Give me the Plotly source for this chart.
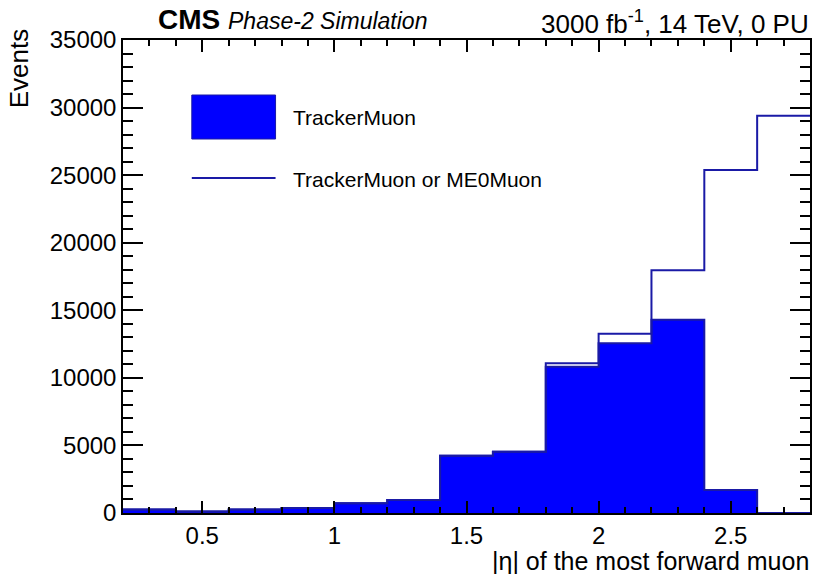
import plotly.graph_objects as go

# Bin edges in |eta| and contents
bin_edges = [0.2, 0.4, 0.6, 0.8, 1.0, 1.2, 1.4, 1.6, 1.8, 2.0, 2.2, 2.4, 2.6, 2.8]
tracker_muon = [250, 120, 250, 370, 720, 960, 4240, 4540, 10820, 12570, 14300, 1700, 0]
tracker_or_me0 = [250, 120, 250, 370, 720, 960, 4240, 4540, 11090, 13260, 17970, 25380, 29400]

FILL = "#0000ff"
EDGE = "#1a1aa6"

def step_y(vals):
    return list(vals) + [vals[-1]]

fig = go.Figure()
fig.add_trace(go.Scatter(
    x=bin_edges, y=step_y(tracker_muon), mode="lines", line_shape="hv",
    line=dict(color=EDGE, width=2), fill="tozeroy", fillcolor=FILL,
    name="TrackerMuon", showlegend=False))
fig.add_trace(go.Scatter(
    x=bin_edges, y=step_y(tracker_or_me0), mode="lines", line_shape="hv",
    line=dict(color=EDGE, width=2),
    name="TrackerMuon or ME0Muon", showlegend=False))

L, R, T, B = 123, 812, 40, 513
W, H = 818, 574
def px(x):
    return (x - L) / (R - L)
def py(y):
    return (B - y) / (B - T)

font = "Liberation Sans, Arial, Helvetica, sans-serif"

fig.update_layout(
    width=W, height=H,
    margin=dict(l=L, r=W - R, t=T, b=H - B),
    paper_bgcolor="white", plot_bgcolor="white",
    font=dict(family=font, color="black", size=24),
    xaxis=dict(range=[0.2, 2.8], dtick=0.5, tick0=0, ticks="inside", ticklen=12,
               tickwidth=1.5, tickcolor="black", showline=True, linecolor="black",
               linewidth=1.5, mirror="ticks", showgrid=False, zeroline=False,
               tickfont=dict(size=24), ticklabelstandoff=0,
               minor=dict(dtick=0.1, tick0=0, ticks="inside", ticklen=6,
                          tickwidth=1.5, tickcolor="black", showgrid=False)),
    yaxis=dict(range=[0, 35000], dtick=5000, tick0=0, ticks="inside", ticklen=20,
               tickwidth=1.5, tickcolor="black", showline=True, linecolor="black",
               linewidth=1.5, mirror="ticks", showgrid=False, zeroline=False,
               tickformat="d", tickfont=dict(size=24), ticklabelstandoff=0,
               minor=dict(dtick=1000, tick0=0, ticks="inside", ticklen=10,
                          tickwidth=1.5, tickcolor="black", showgrid=False)),
)

ann = []
ann.append(dict(x=px(813), y=py(561), xref="paper", yref="paper", xanchor="right",
                yanchor="middle", showarrow=False, text="|η| of the most forward muon",
                font=dict(size=25)))
ann.append(dict(x=px(19), y=py(26), xref="paper", yref="paper", xanchor="center",
                yanchor="top", showarrow=False, text="Events", textangle=-90,
                font=dict(size=26)))
ann.append(dict(x=px(156), y=py(20), xref="paper", yref="paper", xanchor="left",
                yanchor="middle", showarrow=False,
                text="<b>CMS</b> <i><span style='font-size:23px'>Phase-2 Simulation</span></i>",
                font=dict(size=28)))
ann.append(dict(x=px(813), y=py(22), xref="paper", yref="paper", xanchor="right",
                yanchor="middle", showarrow=False,
                text="3000 fb<sup>-1</sup>, 14 TeV, 0 PU", font=dict(size=26)))
ann.append(dict(x=px(291), y=py(118), xref="paper", yref="paper", xanchor="left",
                yanchor="middle", showarrow=False, text="TrackerMuon", font=dict(size=21)))
ann.append(dict(x=px(291), y=py(179), xref="paper", yref="paper", xanchor="left",
                yanchor="middle", showarrow=False, text="TrackerMuon or ME0Muon",
                font=dict(size=21)))
fig.update_layout(annotations=ann)

fig.add_shape(type="rect", xref="paper", yref="paper", x0=px(192), x1=px(276),
              y0=py(139), y1=py(95), fillcolor=FILL, line=dict(color=EDGE, width=1))
fig.add_shape(type="line", xref="paper", yref="paper", x0=px(192), x1=px(276),
              y0=py(178), y1=py(178), line=dict(color=EDGE, width=2))

fig.write_html("out.html")
